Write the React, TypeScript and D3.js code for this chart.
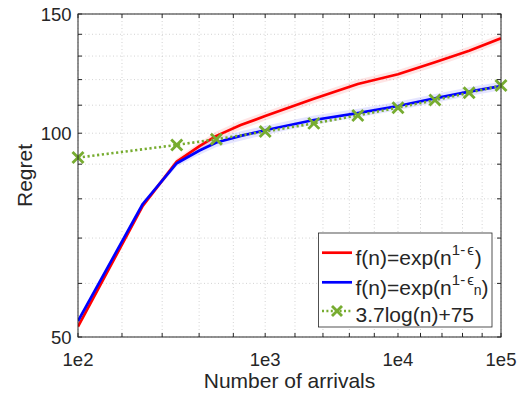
import React from "react";
import * as d3 from "d3";

// ---- data ----
const arrivals = [100, 200, 300, 400, 500, 700, 1000, 2154, 4642, 10000, 21544, 46416, 100000];
const regretFixedEps = [51.8, 78.1, 90.8, 95.7, 99.1, 102.8, 106.0, 112.4, 118.2, 122.2, 127.3, 132.4, 138.1];
const regretFixedEpsSpread = [0.3, 0.6, 1.0, 1.3, 1.5, 1.6, 1.6, 1.7, 1.8, 1.8, 1.9, 1.9, 2.0];
const regretVarEps = [52.8, 78.6, 90.3, 94.3, 96.9, 99.1, 101.0, 104.6, 107.1, 109.7, 112.6, 115.2, 117.4];
const regretVarEpsSpread = [0.3, 0.6, 1.0, 1.4, 1.5, 1.6, 1.6, 1.6, 1.6, 1.6, 1.7, 1.7, 1.7];
const refArrivals = [100, 300, 500, 1000, 2154, 4642, 10000, 21544, 46416, 100000];
const refRegret = [92.04, 96.1, 97.99, 100.56, 103.4, 106.24, 109.08, 111.92, 114.76, 117.6];

const xTickValues = [2, 3, 4, 5]; // log10(n)
const xTickLabels = ["1e2", "1e3", "1e4", "1e5"];
const xMinorTicks = d3.range(0, 16).map((i) => 2 + i * 0.2);
const yTickValues = [50, 100, 150];
const yMinorTicks = [50, 60, 70, 80, 90, 100, 110, 120, 130, 140, 150];

const W = 524;
const H = 397;
const L = 78, R = 501, T = 14, B = 337;
const FONT = "'Liberation Sans', Arial, Helvetica, sans-serif";
const TXT = "#262626";
const RED = "#ff0000";
const BLUE = "#0000ff";
const GREEN = "#77ac30";

export default function App() {
  const xs = d3.scaleLog().domain([2, 5]).range([L, R]);
  const x = (n: number) => xs(Math.log10(n));
  const y = d3.scaleLog().domain([50, 150]).range([B, T]);

  const line = d3
    .line<[number, number]>()
    .x((d) => x(d[0]))
    .y((d) => y(d[1]));
  const area = d3
    .area<[number, number, number]>()
    .x((d) => x(d[0]))
    .y0((d) => y(d[1] - d[2]))
    .y1((d) => y(d[1] + d[2]));

  const redPts = arrivals.map((n, i) => [n, regretFixedEps[i]] as [number, number]);
  const bluePts = arrivals.map((n, i) => [n, regretVarEps[i]] as [number, number]);
  const redBand = arrivals.map((n, i) => [n, regretFixedEps[i], regretFixedEpsSpread[i]] as [number, number, number]);
  const blueBand = arrivals.map((n, i) => [n, regretVarEps[i], regretVarEpsSpread[i]] as [number, number, number]);
  const greenPts = refArrivals.map((n, i) => [n, refRegret[i]] as [number, number]);

  const cross = (cx: number, cy: number, k: string | number, s = 5.5) => (
    <g key={k} stroke={GREEN} strokeWidth={2.8} strokeLinecap="butt">
      <line x1={cx - s} y1={cy - s} x2={cx + s} y2={cy + s} />
      <line x1={cx - s} y1={cy + s} x2={cx + s} y2={cy - s} />
    </g>
  );

  const lgX = 318.5, lgY = 233, lgW = 173.5, lgH = 94;

  return (
    <svg width={W} height={H} style={{ position: "absolute", left: 0, top: 0, background: "#fff" }} fontFamily={FONT}>
      <rect x={0} y={0} width={W} height={H} fill="#fff" />
      <defs>
        <clipPath id="plot">
          <rect x={L} y={T} width={R - L} height={B - T} />
        </clipPath>
      </defs>
      {/* grid */}
      <g stroke="#c8c8c8" strokeWidth={0.8} strokeDasharray="1,2.5">
        {xMinorTicks.map((v, i) => (
          <line key={"gx" + i} x1={xs(v)} x2={xs(v)} y1={T} y2={B} />
        ))}
        {yMinorTicks.map((v, i) => (
          <line key={"gy" + i} x1={L} x2={R} y1={y(v)} y2={y(v)} />
        ))}
      </g>
      {/* data */}
      <g clipPath="url(#plot)">
        <path d={area(redBand) || ""} fill={RED} fillOpacity={0.1} />
        <path d={area(blueBand) || ""} fill={BLUE} fillOpacity={0.1} />
        <path d={line(redPts) || ""} fill="none" stroke={RED} strokeWidth={2.7} strokeLinejoin="round" />
        <path d={line(bluePts) || ""} fill="none" stroke={BLUE} strokeWidth={2.7} strokeLinejoin="round" />
        <path d={line(greenPts) || ""} fill="none" stroke={GREEN} strokeWidth={2.6} strokeDasharray="2.2,2.6" />
      </g>
      {greenPts.map((p, i) => cross(x(p[0]), y(p[1]), "m" + i))}
      {/* axes box and ticks */}
      <g stroke={TXT} strokeWidth={1}>
        <rect x={L} y={T} width={R - L} height={B - T} fill="none" />
        {xMinorTicks.map((v, i) => (
          <g key={"tx" + i}>
            <line x1={xs(v)} x2={xs(v)} y1={B} y2={B - 4} />
            <line x1={xs(v)} x2={xs(v)} y1={T} y2={T + 4} />
          </g>
        ))}
        {yMinorTicks.map((v, i) => (
          <g key={"ty" + i}>
            <line x1={L} x2={L + 4} y1={y(v)} y2={y(v)} />
            <line x1={R} x2={R - 4} y1={y(v)} y2={y(v)} />
          </g>
        ))}
      </g>
      {/* tick labels */}
      <g fill={TXT} fontSize={18.5}>
        {xTickValues.map((v, i) => (
          <text key={"xl" + i} x={xs(v)} y={366} textAnchor="middle">
            {xTickLabels[i]}
          </text>
        ))}
        {yTickValues.map((v) => (
          <text key={"yl" + v} x={71.5} y={y(v) + 7} textAnchor="end">
            {v}
          </text>
        ))}
      </g>
      <text x={(L + R) / 2} y={388} textAnchor="middle" fontSize={21} fill={TXT}>
        Number of arrivals
      </text>
      <text transform={`translate(31.5,175.5) rotate(-90)`} textAnchor="middle" fontSize={21} fill={TXT}>
        Regret
      </text>
      {/* legend */}
      <g>
        <rect x={lgX} y={lgY} width={lgW} height={lgH} fill="#fff" stroke={TXT} strokeWidth={0.8} />
        <line x1={322} x2={352} y1={252.7} y2={252.7} stroke={RED} strokeWidth={2.7} />
        <text x={355.5} y={265} fontSize={21} fill={TXT}>
          f(n)=exp(n
          <tspan dy={-10} fontSize={15}>1-</tspan>
          <tspan dx={2} fontSize={15}>ϵ</tspan>
          <tspan dx={1} dy={10}>)</tspan>
        </text>
        <line x1={322} x2={352} y1={282.3} y2={282.3} stroke={BLUE} strokeWidth={2.7} />
        <text x={355.5} y={295} fontSize={21} fill={TXT}>
          f(n)=exp(n
          <tspan dy={-10} fontSize={15}>1-</tspan>
          <tspan dx={2} fontSize={15}>ϵ</tspan>
          <tspan dy={10} fontSize={14}>n</tspan>
          <tspan dy={0}>)</tspan>
        </text>
        <line x1={322} x2={352} y1={311} y2={311} stroke={GREEN} strokeWidth={2.4} strokeDasharray="2,2.4" />
        {cross(337, 311, "lgm", 5)}
        <text x={355.5} y={321.5} fontSize={21} fill={TXT}>
          3.7log(n)+75
        </text>
      </g>
    </svg>
  );
}
